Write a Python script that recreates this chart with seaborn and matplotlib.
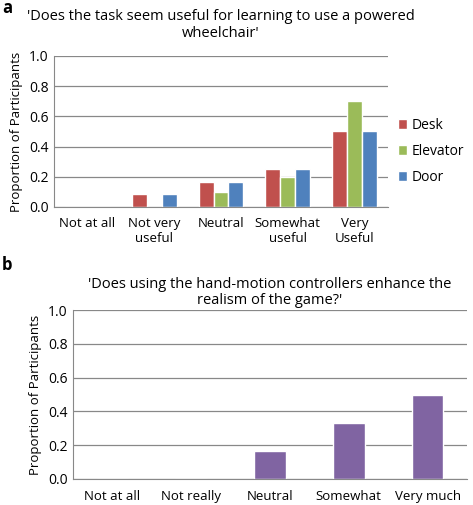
import numpy as np
import pandas as pd
import seaborn as sns
import matplotlib
matplotlib.use("Agg")
import matplotlib.pyplot as plt

# panel a data
cats_a = ["Not at all", "Not very\nuseful", "Neutral", "Somewhat\nuseful", "Very\nUseful"]
desk = [0.0, 0.083, 0.167, 0.25, 0.5]
elevator = [0.0, 0.0, 0.1, 0.2, 0.7]
door = [0.0, 0.083, 0.167, 0.25, 0.5]
tasks = ["Desk", "Elevator", "Door"]

# panel b data
cats_b = ["Not at all", "Not really", "Neutral", "Somewhat", "Very much"]
realism = [0.0, 0.0, 0.167, 0.333, 0.5]

sns.set_style("white")
plt.rcParams['font.family'] = ['Open Sans', 'DejaVu Sans']
plt.rcParams['font.size'] = 8.5
plt.rcParams['text.color'] = 'black'
plt.rcParams['xtick.color'] = 'black'
plt.rcParams['ytick.color'] = 'black'
plt.rcParams['axes.labelcolor'] = 'black'

df_a = pd.DataFrame({
    "cat": cats_a * 3,
    "task": [t for t in tasks for _ in cats_a],
    "val": desk + elevator + door,
})
df_b = pd.DataFrame({"cat": cats_b, "val": realism})

fig = plt.figure(figsize=(4.73, 5.05), dpi=100)
W, H = 473, 505
ax1 = fig.add_axes([54 / W, 1 - 207 / H, (388 - 54) / W, (207 - 56) / H])
ax2 = fig.add_axes([73 / W, 1 - 479 / H, (467 - 73) / W, (479 - 310) / H])

pal = ["#C0504D", "#9BBB59", "#4F81BD"]


def style_ax(ax):
    ax.set_ylim(0, 1.0)
    ax.set_yticks(np.arange(0, 1.01, 0.2))
    ax.set_yticklabels(["{:.1f}".format(v) for v in np.arange(0, 1.01, 0.2)], fontsize=10)
    ax.yaxis.grid(True, color="#888888", linewidth=0.9)
    ax.set_axisbelow(True)
    for s in ["top", "right"]:
        ax.spines[s].set_visible(False)
    ax.spines["left"].set_color("#888888")
    ax.spines["bottom"].set_color("#888888")
    ax.tick_params(axis="both", length=0, pad=4)
    ax.set_xlabel("")
    ax.set_ylabel("Proportion of Participants", fontsize=9.5)


sns.barplot(data=df_a, x="cat", y="val", hue="task", palette=pal, ax=ax1,
            width=0.67, saturation=1, errorbar=None)
style_ax(ax1)
ax1.tick_params(axis="x", labelsize=9.5, pad=7)
ax1.legend(loc="center left", bbox_to_anchor=(1.0, 0.37), frameon=False,
           fontsize=10, handlelength=0.7, handleheight=0.7, handletextpad=0.3,
           labelspacing=0.8, borderaxespad=0.3)
ax1.set_title("'Does the task seem useful for learning to use a powered\nwheelchair'",
              fontsize=10.5, pad=14, linespacing=1.1)

sns.barplot(data=df_b, x="cat", y="val", color="#8064A2", ax=ax2,
            width=0.4, saturation=1, errorbar=None)
style_ax(ax2)
ax2.tick_params(axis="x", labelsize=9.5, pad=8)
ax2.set_title("'Does using the hand-motion controllers enhance the\nrealism of the game?'",
              fontsize=10.5, pad=4, linespacing=1.1)

fig.text(2 / W, 1 - 8 / H, "a", fontsize=12, fontweight="bold", va="center")
fig.text(2 / W, 1 - 265 / H, "b", fontsize=12, fontweight="bold", va="center")

fig.savefig("out.png", dpi=100)
